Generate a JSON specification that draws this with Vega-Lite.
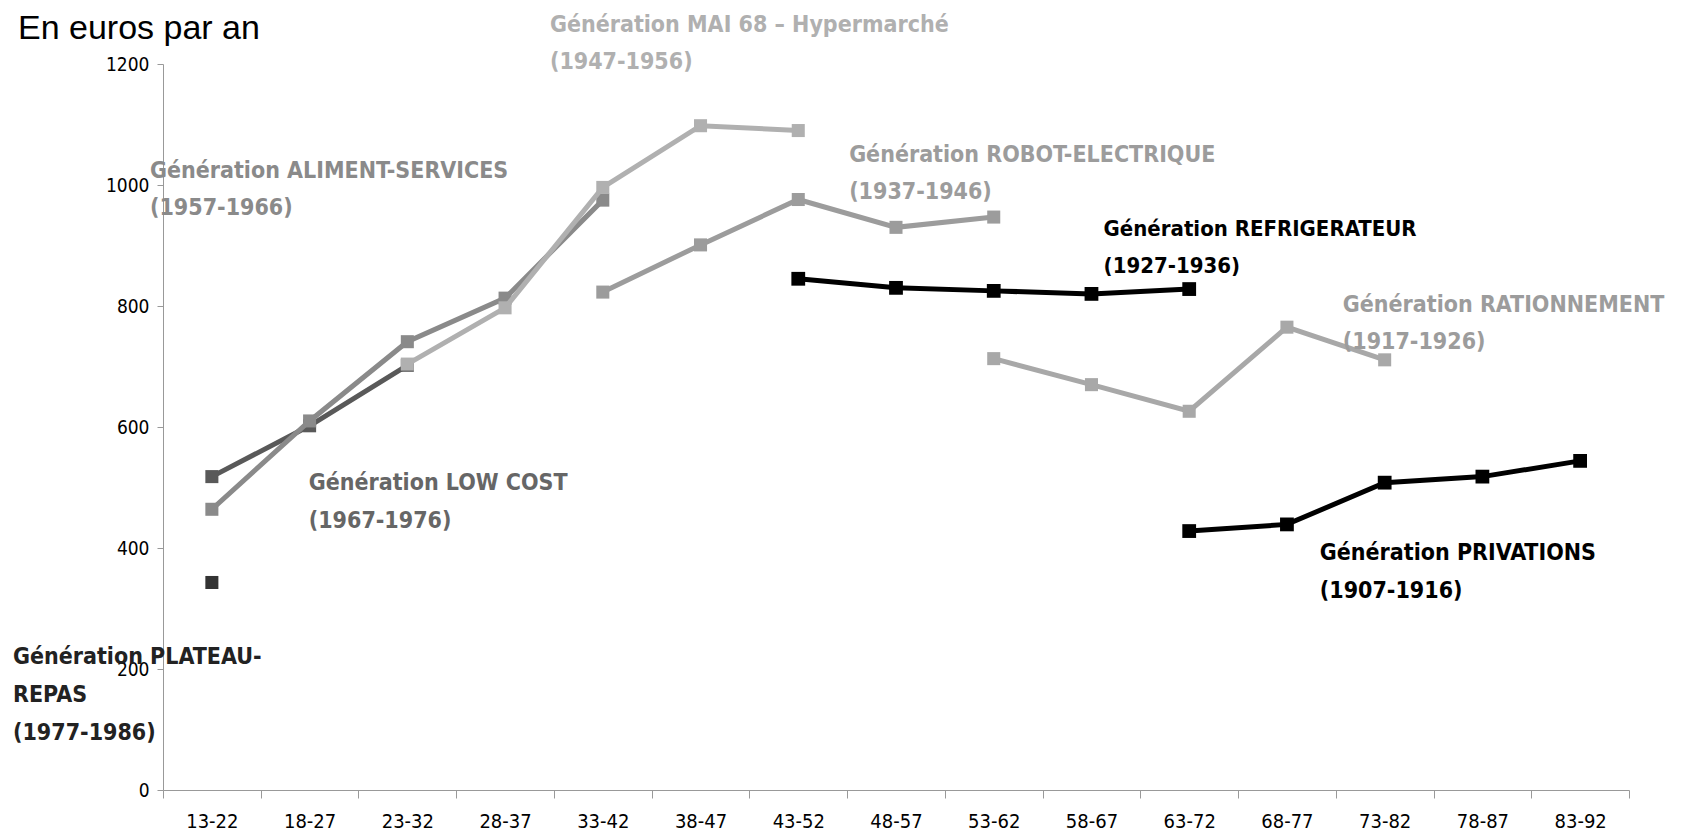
{
  "$schema": "https://vega.github.io/schema/vega-lite/v6.json",
  "width": 1466,
  "height": 726,
  "autosize": {"type": "none"},
  "padding": {"left": 163, "top": 64, "right": 56, "bottom": 45},
  "background": "white",
  "title": {
    "text": "En euros par an",
    "anchor": "start",
    "frame": "group",
    "dx": -145,
    "dy": 50,
    "offset": 18,
    "font": "Liberation Sans Narrow, Liberation Sans, sans-serif",
    "fontSize": 34,
    "fontWeight": "normal",
    "color": "#000"
  },
  "config": {
    "view": {"stroke": null},
    "axis": {
      "grid": false,
      "domainColor": "#999",
      "tickColor": "#999",
      "labelColor": "#000",
      "labelFont": "Liberation Sans Narrow, DejaVu Sans Condensed, sans-serif",
      "labelFontSize": 19,
      "title": null
    }
  },
  "datasets": {
    "series": [
      {"gen": "PLATEAU", "age": "13-22", "v": 343},
      {"gen": "LOWCOST", "age": "13-22", "v": 518},
      {"gen": "LOWCOST", "age": "18-27", "v": 602},
      {"gen": "LOWCOST", "age": "23-32", "v": 702},
      {"gen": "ALIMENT", "age": "13-22", "v": 464},
      {"gen": "ALIMENT", "age": "18-27", "v": 610},
      {"gen": "ALIMENT", "age": "23-32", "v": 741},
      {"gen": "ALIMENT", "age": "28-37", "v": 813},
      {"gen": "ALIMENT", "age": "33-42", "v": 975},
      {"gen": "MAI68", "age": "23-32", "v": 704},
      {"gen": "MAI68", "age": "28-37", "v": 797},
      {"gen": "MAI68", "age": "33-42", "v": 996},
      {"gen": "MAI68", "age": "38-47", "v": 1098},
      {"gen": "MAI68", "age": "43-52", "v": 1090},
      {"gen": "ROBOT", "age": "33-42", "v": 823},
      {"gen": "ROBOT", "age": "38-47", "v": 901},
      {"gen": "ROBOT", "age": "43-52", "v": 976},
      {"gen": "ROBOT", "age": "48-57", "v": 930},
      {"gen": "ROBOT", "age": "53-62", "v": 947},
      {"gen": "REFRIG", "age": "43-52", "v": 845},
      {"gen": "REFRIG", "age": "48-57", "v": 830},
      {"gen": "REFRIG", "age": "53-62", "v": 825},
      {"gen": "REFRIG", "age": "58-67", "v": 820},
      {"gen": "REFRIG", "age": "63-72", "v": 828},
      {"gen": "RATION", "age": "53-62", "v": 713},
      {"gen": "RATION", "age": "58-67", "v": 670},
      {"gen": "RATION", "age": "63-72", "v": 626},
      {"gen": "RATION", "age": "68-77", "v": 765},
      {"gen": "RATION", "age": "73-82", "v": 711},
      {"gen": "PRIV", "age": "63-72", "v": 428},
      {"gen": "PRIV", "age": "68-77", "v": 439},
      {"gen": "PRIV", "age": "73-82", "v": 508},
      {"gen": "PRIV", "age": "78-87", "v": 518},
      {"gen": "PRIV", "age": "83-92", "v": 544}
    ],
    "labels": [
      {"gen": "MAI68", "age": "33-42", "ly": 1264, "txt": "Génération  MAI 68 – Hypermarché\n(1947-1956)"},
      {"gen": "ALIMENT", "age": "13-22", "ly": 1023, "txt": "Génération  ALIMENT-SERVICES\n(1957-1966)"},
      {"gen": "ROBOT", "age": "48-57", "ly": 1050, "txt": "Génération ROBOT-ELECTRIQUE\n(1937-1946)"},
      {"gen": "REFRIG", "age": "58-67", "ly": 928, "txt": "Génération REFRIGERATEUR\n(1927-1936)"},
      {"gen": "RATION", "age": "73-82", "ly": 802, "txt": "Génération RATIONNEMENT\n(1917-1926)"},
      {"gen": "LOWCOST", "age": "18-27", "ly": 508, "txt": "Génération  LOW COST\n(1967-1976)"},
      {"gen": "PRIV", "age": "73-82", "ly": 391, "txt": "Génération PRIVATIONS\n(1907-1916)"},
      {"gen": "PLATEAU", "age": "13-22", "ly": 220, "txt": "Génération  PLATEAU-\nREPAS\n(1977-1986)"}
    ]
  },
  "encoding": {
    "x": {
      "field": "age",
      "type": "nominal",
      "sort": ["13-22","18-27","23-32","28-37","33-42","38-47","43-52","48-57","53-62","58-67","63-72","68-77","73-82","78-87","83-92"],
      "scale": {"type": "band", "paddingInner": 0, "paddingOuter": 0},
      "axis": {"labelAngle": 0, "tickBand": "extent", "tickSize": 8, "labelPadding": 13, "labelFontSize": 20}
    },
    "y": {
      "field": "v",
      "type": "quantitative",
      "scale": {"domain": [0, 1200], "nice": false},
      "axis": {"values": [0,200,400,600,800,1000,1200], "format": "d", "tickSize": 6, "labelPadding": 8, "labelFontSize": 19}
    }
  },
  "layer": [
    {"data": {"name": "series"}, "transform": [{"filter": "datum.gen == 'PLATEAU'"}],
     "mark": {"type": "line", "color": "#333", "strokeWidth": 5, "point": {"shape": "square", "size": 170, "filled": true, "color": "#333", "opacity": 1}},
     "encoding": {"x": {"field": "age", "type": "nominal", "bandPosition": 0.5, "sort": ["13-22","18-27","23-32","28-37","33-42","38-47","43-52","48-57","53-62","58-67","63-72","68-77","73-82","78-87","83-92"]}}},
    {"data": {"name": "series"}, "transform": [{"filter": "datum.gen == 'LOWCOST'"}],
     "mark": {"type": "line", "color": "#595959", "strokeWidth": 5, "point": {"shape": "square", "size": 170, "filled": true, "color": "#595959", "opacity": 1}},
     "encoding": {"x": {"field": "age", "type": "nominal", "bandPosition": 0.5, "sort": ["13-22","18-27","23-32","28-37","33-42","38-47","43-52","48-57","53-62","58-67","63-72","68-77","73-82","78-87","83-92"]}}},
    {"data": {"name": "series"}, "transform": [{"filter": "datum.gen == 'ALIMENT'"}],
     "mark": {"type": "line", "color": "#8a8a8a", "strokeWidth": 5, "point": {"shape": "square", "size": 170, "filled": true, "color": "#8a8a8a", "opacity": 1}},
     "encoding": {"x": {"field": "age", "type": "nominal", "bandPosition": 0.5, "sort": ["13-22","18-27","23-32","28-37","33-42","38-47","43-52","48-57","53-62","58-67","63-72","68-77","73-82","78-87","83-92"]}}},
    {"data": {"name": "series"}, "transform": [{"filter": "datum.gen == 'MAI68'"}],
     "mark": {"type": "line", "color": "#b0b0b0", "strokeWidth": 5, "point": {"shape": "square", "size": 170, "filled": true, "color": "#b0b0b0", "opacity": 1}},
     "encoding": {"x": {"field": "age", "type": "nominal", "bandPosition": 0.5, "sort": ["13-22","18-27","23-32","28-37","33-42","38-47","43-52","48-57","53-62","58-67","63-72","68-77","73-82","78-87","83-92"]}}},
    {"data": {"name": "series"}, "transform": [{"filter": "datum.gen == 'ROBOT'"}],
     "mark": {"type": "line", "color": "#9c9c9c", "strokeWidth": 5, "point": {"shape": "square", "size": 170, "filled": true, "color": "#9c9c9c", "opacity": 1}},
     "encoding": {"x": {"field": "age", "type": "nominal", "bandPosition": 0.5, "sort": ["13-22","18-27","23-32","28-37","33-42","38-47","43-52","48-57","53-62","58-67","63-72","68-77","73-82","78-87","83-92"]}}},
    {"data": {"name": "series"}, "transform": [{"filter": "datum.gen == 'RATION'"}],
     "mark": {"type": "line", "color": "#a8a8a8", "strokeWidth": 5, "point": {"shape": "square", "size": 170, "filled": true, "color": "#a8a8a8", "opacity": 1}},
     "encoding": {"x": {"field": "age", "type": "nominal", "bandPosition": 0.5, "sort": ["13-22","18-27","23-32","28-37","33-42","38-47","43-52","48-57","53-62","58-67","63-72","68-77","73-82","78-87","83-92"]}}},
    {"data": {"name": "series"}, "transform": [{"filter": "datum.gen == 'REFRIG'"}],
     "mark": {"type": "line", "color": "#000", "strokeWidth": 5, "point": {"shape": "square", "size": 190, "filled": true, "color": "#000", "opacity": 1}},
     "encoding": {"x": {"field": "age", "type": "nominal", "bandPosition": 0.5, "sort": ["13-22","18-27","23-32","28-37","33-42","38-47","43-52","48-57","53-62","58-67","63-72","68-77","73-82","78-87","83-92"]}}},
    {"data": {"name": "series"}, "transform": [{"filter": "datum.gen == 'PRIV'"}],
     "mark": {"type": "line", "color": "#000", "strokeWidth": 5, "point": {"shape": "square", "size": 190, "filled": true, "color": "#000", "opacity": 1}},
     "encoding": {"x": {"field": "age", "type": "nominal", "bandPosition": 0.5, "sort": ["13-22","18-27","23-32","28-37","33-42","38-47","43-52","48-57","53-62","58-67","63-72","68-77","73-82","78-87","83-92"]}}},
    {"data": {"name": "labels"}, "transform": [{"filter": "datum.gen == 'MAI68'"}],
     "mark": {"type": "text", "align": "left", "baseline": "middle", "lineBreak": "\n", "lineHeight": 37, "dx": -4, "font": "Liberation Sans Narrow, DejaVu Sans Condensed, sans-serif", "fontSize": 23, "fontWeight": "bold", "color": "#b0b0b0"},
     "encoding": {"x": {"field": "age", "type": "nominal", "bandPosition": 0, "sort": ["13-22","18-27","23-32","28-37","33-42","38-47","43-52","48-57","53-62","58-67","63-72","68-77","73-82","78-87","83-92"]}, "y": {"field": "ly", "type": "quantitative"}, "text": {"field": "txt"}}},
    {"data": {"name": "labels"}, "transform": [{"filter": "datum.gen == 'ALIMENT'"}],
     "mark": {"type": "text", "align": "left", "baseline": "middle", "lineBreak": "\n", "lineHeight": 37, "dx": -13, "font": "Liberation Sans Narrow, DejaVu Sans Condensed, sans-serif", "fontSize": 23, "fontWeight": "bold", "color": "#8a8a8a"},
     "encoding": {"x": {"field": "age", "type": "nominal", "bandPosition": 0, "sort": ["13-22","18-27","23-32","28-37","33-42","38-47","43-52","48-57","53-62","58-67","63-72","68-77","73-82","78-87","83-92"]}, "y": {"field": "ly", "type": "quantitative"}, "text": {"field": "txt"}}},
    {"data": {"name": "labels"}, "transform": [{"filter": "datum.gen == 'ROBOT'"}],
     "mark": {"type": "text", "align": "left", "baseline": "middle", "lineBreak": "\n", "lineHeight": 37, "dx": 2, "font": "Liberation Sans Narrow, DejaVu Sans Condensed, sans-serif", "fontSize": 23, "fontWeight": "bold", "color": "#9c9c9c"},
     "encoding": {"x": {"field": "age", "type": "nominal", "bandPosition": 0, "sort": ["13-22","18-27","23-32","28-37","33-42","38-47","43-52","48-57","53-62","58-67","63-72","68-77","73-82","78-87","83-92"]}, "y": {"field": "ly", "type": "quantitative"}, "text": {"field": "txt"}}},
    {"data": {"name": "labels"}, "transform": [{"filter": "datum.gen == 'REFRIG'"}],
     "mark": {"type": "text", "align": "left", "baseline": "middle", "lineBreak": "\n", "lineHeight": 37, "dx": 61, "font": "Liberation Sans Narrow, DejaVu Sans Condensed, sans-serif", "fontSize": 22, "fontWeight": "bold", "color": "#000"},
     "encoding": {"x": {"field": "age", "type": "nominal", "bandPosition": 0, "sort": ["13-22","18-27","23-32","28-37","33-42","38-47","43-52","48-57","53-62","58-67","63-72","68-77","73-82","78-87","83-92"]}, "y": {"field": "ly", "type": "quantitative"}, "text": {"field": "txt"}}},
    {"data": {"name": "labels"}, "transform": [{"filter": "datum.gen == 'RATION'"}],
     "mark": {"type": "text", "align": "left", "baseline": "middle", "lineBreak": "\n", "lineHeight": 37, "dx": 7, "font": "Liberation Sans Narrow, DejaVu Sans Condensed, sans-serif", "fontSize": 23, "fontWeight": "bold", "color": "#9c9c9c"},
     "encoding": {"x": {"field": "age", "type": "nominal", "bandPosition": 0, "sort": ["13-22","18-27","23-32","28-37","33-42","38-47","43-52","48-57","53-62","58-67","63-72","68-77","73-82","78-87","83-92"]}, "y": {"field": "ly", "type": "quantitative"}, "text": {"field": "txt"}}},
    {"data": {"name": "labels"}, "transform": [{"filter": "datum.gen == 'LOWCOST'"}],
     "mark": {"type": "text", "align": "left", "baseline": "middle", "lineBreak": "\n", "lineHeight": 38, "dx": 48, "font": "Liberation Sans Narrow, DejaVu Sans Condensed, sans-serif", "fontSize": 23, "fontWeight": "bold", "color": "#666"},
     "encoding": {"x": {"field": "age", "type": "nominal", "bandPosition": 0, "sort": ["13-22","18-27","23-32","28-37","33-42","38-47","43-52","48-57","53-62","58-67","63-72","68-77","73-82","78-87","83-92"]}, "y": {"field": "ly", "type": "quantitative"}, "text": {"field": "txt"}}},
    {"data": {"name": "labels"}, "transform": [{"filter": "datum.gen == 'PRIV'"}],
     "mark": {"type": "text", "align": "left", "baseline": "middle", "lineBreak": "\n", "lineHeight": 38, "dx": -16, "font": "Liberation Sans Narrow, DejaVu Sans Condensed, sans-serif", "fontSize": 23, "fontWeight": "bold", "color": "#000"},
     "encoding": {"x": {"field": "age", "type": "nominal", "bandPosition": 0, "sort": ["13-22","18-27","23-32","28-37","33-42","38-47","43-52","48-57","53-62","58-67","63-72","68-77","73-82","78-87","83-92"]}, "y": {"field": "ly", "type": "quantitative"}, "text": {"field": "txt"}}},
    {"data": {"name": "labels"}, "transform": [{"filter": "datum.gen == 'PLATEAU'"}],
     "mark": {"type": "text", "align": "left", "baseline": "middle", "lineBreak": "\n", "lineHeight": 38, "dx": -150, "font": "Liberation Sans Narrow, DejaVu Sans Condensed, sans-serif", "fontSize": 23, "fontWeight": "bold", "color": "#222"},
     "encoding": {"x": {"field": "age", "type": "nominal", "bandPosition": 0, "sort": ["13-22","18-27","23-32","28-37","33-42","38-47","43-52","48-57","53-62","58-67","63-72","68-77","73-82","78-87","83-92"]}, "y": {"field": "ly", "type": "quantitative"}, "text": {"field": "txt"}}}
  ]
}
